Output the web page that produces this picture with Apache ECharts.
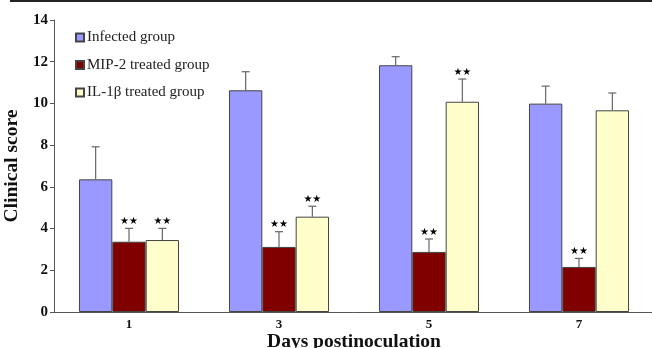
<!DOCTYPE html>
<html><head><meta charset="utf-8">
<script src="https://cdn.jsdelivr.net/npm/echarts@6/dist/echarts.min.js"></script>
<style>html,body{margin:0;padding:0;background:#fff}#c{width:652px;height:348px}</style>
</head><body><div id="c"></div>
<script>
const categories = ['1', '3', '5', '7'];
const seriesNames = ['Infected group', 'MIP-2 treated group', 'IL-1\u03b2 treated group'];
const infected = [6.36, 10.63, 11.83, 9.99];
const infectedErr = [1.56, 0.89, 0.41, 0.84];
const mip2 = [3.37, 3.12, 2.88, 2.16];
const mip2Err = [0.64, 0.73, 0.62, 0.41];
const il1b = [3.45, 4.57, 10.08, 9.67];
const il1bErr = [0.56, 0.50, 1.09, 0.83];
const infectedSig = [0, 0, 0, 0];
const mip2Sig = [1, 1, 1, 1];
const il1bSig = [1, 1, 1, 0];
const yTicks = [0, 2, 4, 6, 8, 10, 12, 14];

const colors = ['#9999FF', '#800000', '#FFFFCC'];
const values = [infected, mip2, il1b];
const errs = [infectedErr, mip2Err, il1bErr];
const sigs = [infectedSig, mip2Sig, il1bSig];
const catGapFrac = 0.333;
const serif = '"Liberation Serif", "Times New Roman", serif';

const chart = echarts.init(document.getElementById('c'), null, {renderer: 'canvas'});

const series = [];
values.forEach((vals, i) => {
  series.push({
    name: seriesNames[i], type: 'bar', data: vals,
    barGap: '0%', barCategoryGap: (catGapFrac * 100) + '%',
    itemStyle: {color: colors[i], borderColor: '#444', borderWidth: 1},
    emphasis: {disabled: true}
  });
});
values.forEach((vals, i) => {
  const data = vals.map((v, k) => [k, v, v + errs[i][k], sigs[i][k]]);
  series.push({
    type: 'custom', z: 5, silent: true,
    data: data,
    encode: {x: 0, y: [1, 2]},
    renderItem: function (params, api) {
      const k = api.value(0);
      const top = api.coord([k, api.value(1)]);
      const eTop = api.coord([k, api.value(2)]);
      const band = api.size([1, 0])[0];
      const bw = band * (1 - catGapFrac) / 3;
      const x = top[0] + (i - 1) * bw;
      const cap = 4;
      const children = [
        {type: 'line', shape: {x1: x, y1: top[1], x2: x, y2: eTop[1]}, style: {stroke: '#666', lineWidth: 1.2}},
        {type: 'line', shape: {x1: x - cap, y1: eTop[1], x2: x + cap, y2: eTop[1]}, style: {stroke: '#666', lineWidth: 1.2}}
      ];
      if (api.value(3)) {
        children.push({type: 'text', style: {x: x, y: eTop[1] - 2, text: '\u2605\u2605', fill: '#000',
          font: '10px "DejaVu Sans", sans-serif', align: 'center', verticalAlign: 'bottom'}});
      }
      return {type: 'group', children: children};
    }
  });
});

chart.setOption({
  animation: false,
  backgroundColor: '#fff',
  textStyle: {fontFamily: serif},
  grid: {left: 54, right: -2, top: 20, bottom: 36, containLabel: false, outerBoundsMode: 'none'},
  legend: {
    data: seriesNames, orient: 'vertical', left: 70, top: 25,
    icon: 'rect', itemWidth: 8, itemHeight: 8, itemGap: 12.5,
    textStyle: {fontFamily: serif, fontSize: 15, color: '#222', padding: [0, 0, 0, -2]},
    selectedMode: false
  },
  xAxis: {
    type: 'category', data: categories,
    axisLine: {lineStyle: {color: '#555', width: 1}},
    axisTick: {inside: true, length: 4, lineStyle: {color: '#555'}},
    axisLabel: {fontFamily: serif, fontWeight: 'bold', fontSize: 13, color: '#111', margin: 6},
    name: 'Days postinoculation', nameLocation: 'middle', nameGap: 20, nameMoveOverlap: false,
    nameTextStyle: {fontFamily: serif, fontWeight: 'bold', fontSize: 19.5, color: '#111'}
  },
  yAxis: {
    type: 'value', min: yTicks[0], max: yTicks[yTicks.length - 1], interval: 2,
    axisLine: {show: true, lineStyle: {color: '#555', width: 1}},
    axisTick: {show: true, length: 4, lineStyle: {color: '#555'}},
    splitLine: {show: false},
    axisLabel: {fontFamily: serif, fontWeight: 'bold', fontSize: 15, color: '#111', margin: 6},
    name: 'Clinical score', nameLocation: 'middle', nameGap: 31, nameRotate: 90,
    nameTextStyle: {fontFamily: serif, fontWeight: 'bold', fontSize: 19.5, color: '#111'}
  },
  graphic: [{type: 'rect', shape: {x: 10, y: 0, width: 642, height: 2}, style: {fill: '#222'}}],
  series: series
});
</script></body></html>
